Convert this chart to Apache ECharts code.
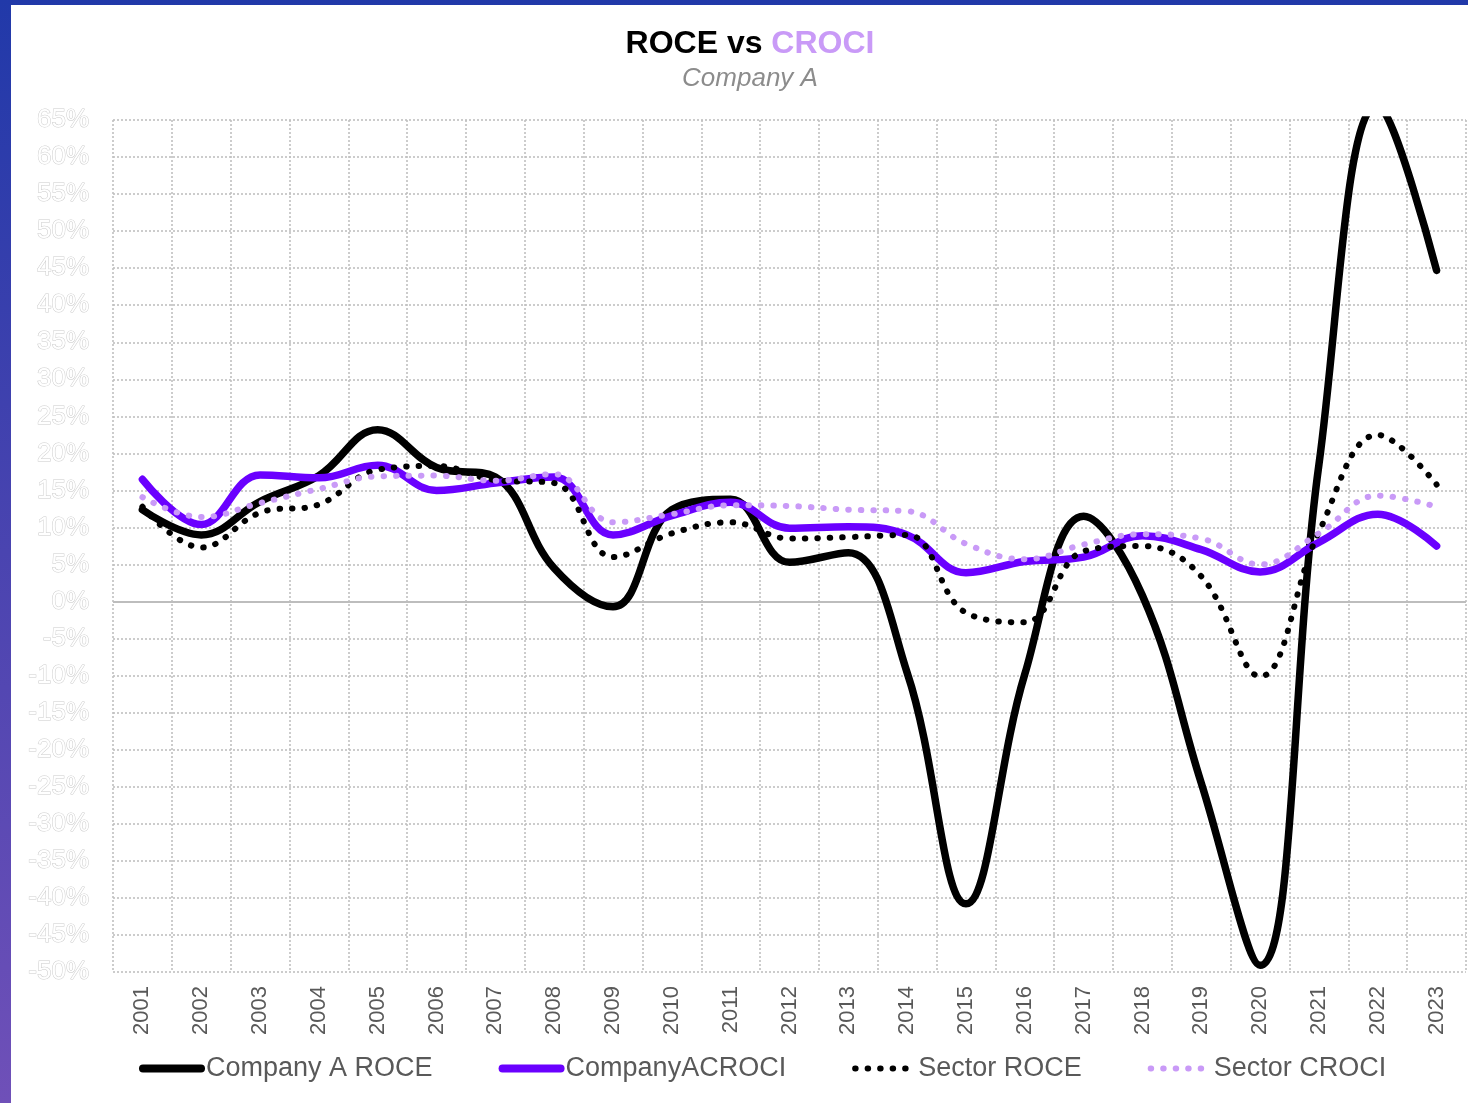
<!DOCTYPE html>
<html>
<head>
<meta charset="utf-8">
<script src="https://cdn.jsdelivr.net/npm/echarts@6/dist/echarts.min.js"></script>
<style>
  html, body { margin: 0; padding: 0; width: 1468px; height: 1103px; overflow: hidden;
    background: linear-gradient(to bottom, #2139a9 0%, #4a44b0 50%, #6f50b8 100%); }
  #chart { position: absolute; left: 11px; top: 5px; width: 1457px; height: 1098px; background: #ffffff; }
</style>
</head>
<body>
<div id="chart"></div>
<script>
const years = ['2001','2002','2003','2004','2005','2006','2007','2008','2009','2010','2011','2012','2013','2014','2015','2016','2017','2018','2019','2020','2021','2022','2023'];
const companyROCE = [12.4, 9.0, 13.5, 17.0, 23.2, 18.1, 16.8, 4.5, -0.7, 12.4, 13.8, 5.3, 6.6, -9.6, -40.8, -9.8, 11.5, 0.8, -24.5, -49.1, 18.5, 67.0, 44.7];
const companyCROCI = [16.5, 10.4, 17.1, 16.7, 18.4, 15.0, 16.0, 16.8, 9.0, 11.6, 13.4, 9.9, 10.1, 9.0, 3.9, 5.4, 6.0, 8.9, 7.0, 4.0, 8.0, 11.8, 7.5];
const sectorROCE = [12.8, 7.3, 12.0, 13.1, 17.8, 18.3, 16.4, 16.0, 6.0, 9.2, 10.7, 8.5, 8.7, 9.0, -1.5, -2.8, 6.8, 7.5, 3.4, -10.1, 9.4, 22.5, 15.8];
const sectorCROCI = [14.1, 11.4, 13.3, 15.2, 16.9, 17.0, 16.3, 17.2, 10.7, 11.8, 13.0, 12.9, 12.4, 12.2, 7.8, 5.7, 7.7, 9.1, 8.5, 5.0, 9.2, 14.3, 12.8];
const seriesNames = ['Company A ROCE', 'CompanyACROCI', 'Sector ROCE', 'Sector CROCI'];

const FONT = '"Liberation Sans", Arial, sans-serif';
const chart = echarts.init(document.getElementById('chart'), null, { renderer: 'canvas' });
const SMOOTH = 0.4;
const dotType = [0.5, 12];
const hiddenSymbol = { opacity: 0 };

chart.setOption({
  animation: false,
  backgroundColor: '#ffffff',
  title: {
    left: 734,
    top: 18,
    textAlign: 'center',
    text: '{a|ROCE vs }{b|CROCI}',
    textStyle: {
      rich: {
        a: { fontFamily: FONT, fontSize: 32, fontWeight: 'bold', color: '#000000' },
        b: { fontFamily: FONT, fontSize: 32, fontWeight: 'bold', color: '#c99af7' }
      }
    },
    subtext: 'Company A',
    subtextStyle: { fontFamily: FONT, fontSize: 26, fontStyle: 'italic', color: '#8c8c8c' },
    itemGap: 6
  },
  legend: {
    left: 123,
    top: 1045,
    itemWidth: 58,
    itemHeight: 14,
    itemGap: 66,
    textStyle: { fontFamily: FONT, fontSize: 27, color: '#595959' },
    data: [
      { name: seriesNames[0], itemStyle: hiddenSymbol, lineStyle: { width: 8, color: '#000000', type: 'solid', cap: 'round' } },
      { name: seriesNames[1], itemStyle: hiddenSymbol, lineStyle: { width: 8, color: '#6a00ff', type: 'solid', cap: 'round' } },
      { name: seriesNames[2], itemStyle: hiddenSymbol, lineStyle: { width: 6, color: '#000000', type: dotType, cap: 'round' } },
      { name: seriesNames[3], itemStyle: hiddenSymbol, lineStyle: { width: 6, color: '#c99af7', type: dotType, cap: 'round' } }
    ]
  },
  grid: { left: 102, top: 115, right: 2, bottom: 131, containLabel: false },
  xAxis: {
    type: 'category',
    data: years,
    boundaryGap: true,
    axisLine: { show: false, onZero: false },
    axisTick: { show: false },
    axisLabel: { rotate: 90, fontFamily: FONT, fontSize: 22, color: '#595959', margin: 14 },
    splitLine: { show: true, lineStyle: { color: '#c0c0c0', width: 1.6, type: [2, 2] } }
  },
  yAxis: {
    type: 'value',
    min: -50,
    max: 65,
    interval: 5,
    axisLine: { show: false },
    axisTick: { show: false },
    axisLabel: {
      formatter: '{value}%',
      fontFamily: FONT, fontSize: 26, color: '#ffffff',
      textBorderColor: '#cccccc', textBorderWidth: 1,
      padding: [8, 0, 0, 0],
      margin: 24
    },
    splitLine: { show: true, lineStyle: { color: '#c0c0c0', width: 1.6, type: [2, 2] } }
  },
  series: [
    {
      name: seriesNames[0], type: 'line', data: companyROCE, smooth: SMOOTH,
      showSymbol: false, symbol: 'none',
      lineStyle: { color: '#000000', width: 7.5, cap: 'round', join: 'round' },
      itemStyle: { color: '#000000' },
      markLine: {
        silent: true, symbol: 'none', z: 1,
        label: { show: false },
        lineStyle: { color: '#bdbdbd', width: 2, type: 'solid' },
        data: [{ yAxis: 0 }]
      }
    },
    {
      name: seriesNames[1], type: 'line', data: companyCROCI, smooth: SMOOTH,
      showSymbol: false, symbol: 'none',
      lineStyle: { color: '#6a00ff', width: 7.5, cap: 'round', join: 'round' },
      itemStyle: { color: '#6a00ff' }
    },
    {
      name: seriesNames[2], type: 'line', data: sectorROCE, smooth: SMOOTH,
      showSymbol: false, symbol: 'none',
      lineStyle: { color: '#000000', width: 6, type: dotType, cap: 'round' },
      itemStyle: { color: '#000000' }
    },
    {
      name: seriesNames[3], type: 'line', data: sectorCROCI, smooth: SMOOTH,
      showSymbol: false, symbol: 'none',
      lineStyle: { color: '#c99af7', width: 6, type: dotType, cap: 'round' },
      itemStyle: { color: '#c99af7' }
    }
  ]
});
</script>
</body>
</html>
